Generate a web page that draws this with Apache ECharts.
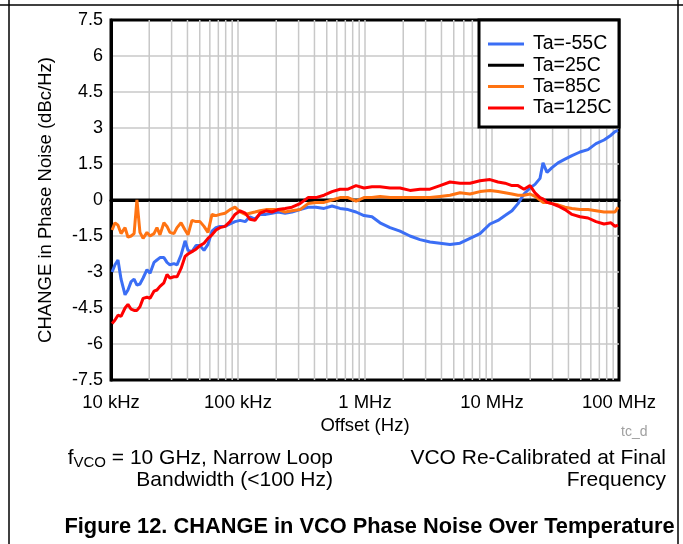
<!DOCTYPE html>
<html><head><meta charset="utf-8">
<script src="https://cdn.jsdelivr.net/npm/echarts@6/dist/echarts.min.js"></script>
<style>html,body{margin:0;padding:0;background:#fff}#c{width:683px;height:544px}</style>
</head><body><div id="c"></div>
<script>
const freqHz = [10200,10750,11350,12000,12900,13600,14400,15200,16000,16900,
17900,19200,20300,21800,23000,24300,26100,27600,29100,31300,
33100,35600,38300,40400,43400,46700,50200,54000,58000,62400,
67100,72100,79000,86500,94700,104000,114000,124000,136000,149000,
166000,185000,207000,235000,266000,308000,356000,411000,476000,550000,
636000,735000,850000,982000,1135000,1313000,1573000,1887000,2261000,2711000,
3249000,3896000,4670000,5598000,6712000,8045000,9645000,11150000,12660000,14370000,
16020000,17860000,19920000,21810000,23880000,25210000,27110000,29680000,33090000,37560000,
42650000,49310000,57010000,65910000,76200000,86500000,93010000,98200000];

const taM55 = [-3.0,-2.7,-2.5,-3.3,-3.95,-3.75,-3.4,-3.3,-3.55,-3.5,
-3.25,-2.9,-3.05,-2.6,-2.5,-2.4,-2.4,-2.6,-2.7,-2.65,
-2.7,-2.3,-1.7,-2.1,-2.15,-1.9,-1.9,-2.1,-1.85,-1.3,
-1.15,-1.1,-1.1,-1.0,-0.9,-0.85,-0.9,-0.7,-0.8,-0.6,
-0.6,-0.55,-0.5,-0.55,-0.5,-0.4,-0.3,-0.3,-0.35,-0.25,
-0.35,-0.4,-0.5,-0.65,-0.7,-0.95,-1.15,-1.3,-1.5,-1.65,
-1.75,-1.8,-1.85,-1.8,-1.6,-1.4,-1.0,-0.85,-0.65,-0.45,
-0.15,0.25,0.5,0.65,0.9,1.55,1.15,1.35,1.55,1.7,
1.85,2.0,2.1,2.35,2.5,2.7,2.85,2.9];

const ta85 = [-1.25,-0.95,-1.05,-1.4,-1.15,-1.55,-1.5,-1.4,0.0,-1.35,
-1.6,-1.35,-1.5,-1.4,-1.15,-1.45,-0.95,-1.1,-1.35,-1.4,
-1.15,-0.95,-1.25,-1.45,-0.85,-0.9,-0.9,-1.1,-1.35,-0.6,
-0.65,-0.6,-0.55,-0.4,-0.3,-0.5,-0.6,-0.55,-0.5,-0.45,
-0.4,-0.4,-0.4,-0.5,-0.45,-0.4,-0.15,-0.1,-0.1,0.0,
0.1,0.1,-0.05,0.1,0.1,0.15,0.1,0.1,0.1,0.1,
0.1,0.15,0.2,0.3,0.25,0.35,0.4,0.35,0.3,0.25,
0.2,0.2,0.25,0.15,0.0,-0.1,-0.1,-0.15,-0.2,-0.3,
-0.35,-0.4,-0.4,-0.45,-0.5,-0.5,-0.5,-0.3];

const ta125 = [-5.15,-5.0,-4.8,-4.85,-4.5,-4.35,-4.55,-4.6,-4.6,-4.45,
-4.1,-4.05,-4.1,-3.8,-3.75,-3.6,-3.45,-3.1,-3.25,-3.2,
-3.2,-2.85,-2.35,-2.25,-2.15,-2.05,-1.9,-1.8,-1.6,-1.45,
-1.25,-1.15,-1.1,-0.9,-0.6,-0.45,-0.55,-0.8,-0.85,-0.55,
-0.45,-0.5,-0.4,-0.35,-0.3,-0.15,0.1,0.1,0.2,0.35,
0.45,0.45,0.6,0.5,0.55,0.55,0.5,0.5,0.4,0.45,
0.45,0.6,0.75,0.7,0.7,0.8,0.85,0.75,0.7,0.6,
0.6,0.45,0.6,0.3,0.1,0.05,-0.1,-0.15,-0.25,-0.4,
-0.6,-0.7,-0.75,-0.9,-1.0,-0.95,-1.1,-1.05];

const ref25Freq = [10000, 100000000];
const ta25 = [0, 0];

const seriesNames = ['Ta=-55C','Ta=25C','Ta=85C','Ta=125C'];
const xTickLabels = ['10 kHz','100 kHz','1 MHz','10 MHz','100 MHz'];
const minorGridHz = [2e4,3e4,4e4,5e4,6e4,7e4,8e4,9e4,
  2e5,3e5,4e5,5e5,6e5,7e5,8e5,9e5,
  2e6,3e6,4e6,5e6,6e6,7e6,8e6,9e6,
  2e7,3e7,4e7,5e7,6e7,7e7,8e7,9e7];
const yMin = -7.5, yMax = 7.5, yStep = 1.5;

const FONT = '"Liberation Sans", Arial, sans-serif';
const GRIDC = '#c8c8c8';
const pair = (xs, ys) => xs.map((x, i) => [x, ys[i]]);
// vertical minor grid: one segment per minor frequency, broken by nulls
const minorData = [];
minorGridHz.forEach(f => { minorData.push([f, yMin], [f, yMax], [f, null]); });

const chart = echarts.init(document.getElementById('c'), null, {renderer: 'canvas'});
chart.setOption({
  animation: false,
  backgroundColor: '#fff',
  textStyle: {fontFamily: FONT},
  grid: {left: 111, top: 20, right: 64, bottom: 164, show: true, borderColor: '#000', borderWidth: 3, backgroundColor: 'transparent', z: 0},
  xAxis: {
    type: 'log', logBase: 10, min: 1e4, max: 1e8,
    name: 'Offset (Hz)', nameLocation: 'middle', nameGap: 36,
    nameTextStyle: {fontSize: 18.5, color: '#000', fontFamily: FONT},
    axisLine: {show: true, lineStyle: {color: '#000', width: 3}},
    axisTick: {show: false},
    axisLabel: {
      color: '#000', fontSize: 18.5, margin: 13, fontFamily: FONT,
      formatter: v => xTickLabels[Math.round(Math.log10(v)) - 4]
    },
    splitLine: {show: true, showMinLine: false, showMaxLine: false, lineStyle: {color: GRIDC, width: 1.5}}
  },
  yAxis: {
    type: 'value', min: yMin, max: yMax, interval: yStep,
    name: 'CHANGE in Phase Noise (dBc/Hz)', nameLocation: 'middle', nameGap: 56,
    nameTextStyle: {fontSize: 18.5, color: '#000', fontFamily: FONT},
    axisLine: {show: true, lineStyle: {color: '#000', width: 3}},
    axisTick: {show: false},
    axisLabel: {color: '#000', fontSize: 18, margin: 8, fontFamily: FONT},
    splitLine: {show: true, showMinLine: false, showMaxLine: false, lineStyle: {color: GRIDC, width: 1.5}}
  },
  legend: {
    data: seriesNames, orient: 'vertical', left: 483, top: 29,
    icon: 'rect', itemWidth: 36, itemHeight: 3, itemGap: 1.3,
    textStyle: {fontSize: 19.5, color: '#000', lineHeight: 19, fontFamily: FONT, padding: [0, 0, 0, 4]},
    z: 20
  },
  graphic: [
    {type: 'rect', z: 15, shape: {x: 479, y: 20, width: 140, height: 107}, style: {fill: '#fff', stroke: '#000', lineWidth: 3}},
    {type: 'line', z: 15, shape: {x1: 0, y1: 5, x2: 683, y2: 5}, style: {stroke: '#000', lineWidth: 1.5}},
    {type: 'line', z: 15, shape: {x1: 9, y1: 0, x2: 9, y2: 544}, style: {stroke: '#000', lineWidth: 1.5}},
    {type: 'line', z: 15, shape: {x1: 678, y1: 0, x2: 678, y2: 544}, style: {stroke: '#000', lineWidth: 1.5}},
    {type: 'text', z: 15, left: 621, top: 425, style: {text: 'tc_d', fontSize: 14, fill: '#a0a0a0', fontFamily: FONT}},
    {type: 'text', z: 15, x: 333, y: 458, style: {
      text: '{f|f}{s|VCO}{n| = 10 GHz, Narrow Loop}', align: 'right', verticalAlign: 'middle',
      rich: {f: {fontSize: 21, fontFamily: FONT, fill: '#000'}, s: {fontSize: 15, fontFamily: FONT, fill: '#000', padding: [9, 0, 0, 0]}, n: {fontSize: 21, fontFamily: FONT, fill: '#000'}}
    }},
    {type: 'text', z: 15, x: 333, y: 480, style: {text: 'Bandwidth (<100 Hz)', align: 'right', verticalAlign: 'middle', fontSize: 21, fontFamily: FONT, fill: '#000'}},
    {type: 'text', z: 15, x: 666, y: 458, style: {text: 'VCO Re-Calibrated at Final', align: 'right', verticalAlign: 'middle', fontSize: 21, fontFamily: FONT, fill: '#000'}},
    {type: 'text', z: 15, x: 666, y: 480, style: {text: 'Frequency', align: 'right', verticalAlign: 'middle', fontSize: 21, fontFamily: FONT, fill: '#000'}},
    {type: 'text', z: 15, x: 369.5, y: 527, style: {text: 'Figure 12. CHANGE in VCO Phase Noise Over Temperature', align: 'center', verticalAlign: 'middle', fontSize: 21.8, fontWeight: 'bold', fontFamily: FONT, fill: '#000'}}
  ],
  series: [
    {name: '_minor', type: 'line', data: minorData, z: 1, silent: true, connectNulls: false,
      showSymbol: false, symbol: 'none', lineStyle: {color: GRIDC, width: 1.5}},
    {name: seriesNames[1], type: 'line', data: pair(ref25Freq, ta25), showSymbol: false, symbol: 'none', z: 3,
      lineStyle: {color: '#000', width: 3}, itemStyle: {color: '#000'}},
    {name: seriesNames[0], type: 'line', data: pair(freqHz, taM55), showSymbol: false, symbol: 'none', z: 4,
      lineStyle: {color: '#3b6ef5', width: 3}, itemStyle: {color: '#3b6ef5'}},
    {name: seriesNames[2], type: 'line', data: pair(freqHz, ta85), showSymbol: false, symbol: 'none', z: 5,
      lineStyle: {color: '#ff7312', width: 3}, itemStyle: {color: '#ff7312'}},
    {name: seriesNames[3], type: 'line', data: pair(freqHz, ta125), showSymbol: false, symbol: 'none', z: 6,
      lineStyle: {color: '#ff0000', width: 3}, itemStyle: {color: '#ff0000'}}
  ]
});
</script></body></html>
